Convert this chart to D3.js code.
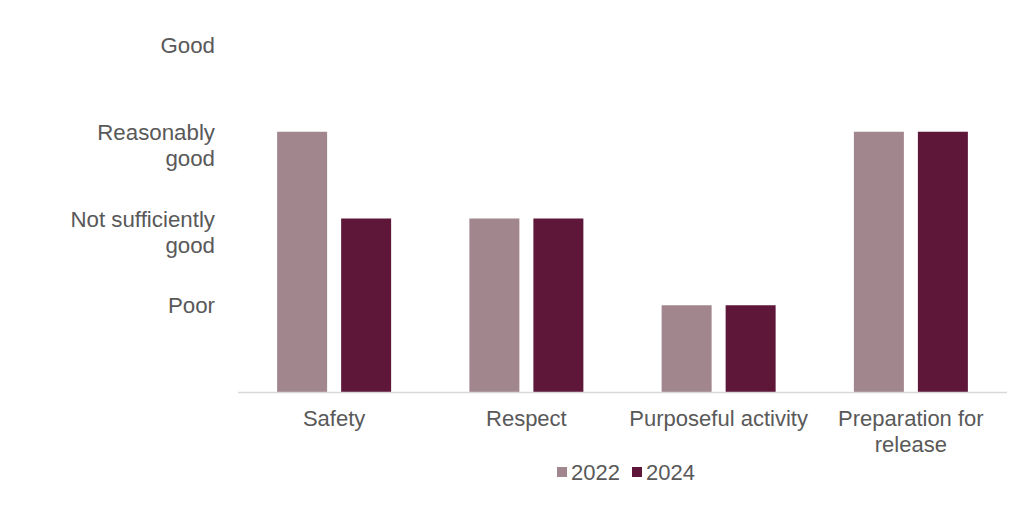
<!DOCTYPE html>
<html>
<head>
<meta charset="utf-8">
<script src="https://cdn.jsdelivr.net/npm/d3@7"></script>
<style>
  body { margin: 0; background: #fff; }
  text { font-family: "Liberation Sans", Arial, sans-serif; fill: #595959; }
</style>
</head>
<body>
<svg width="1024" height="509"></svg>
<script>
const categories = ["Safety", "Respect", "Purposeful activity", "Preparation for release"]
const years = ["2022", "2024"]
const values2022 = [3, 2, 1, 3]
const values2024 = [2, 2, 1, 3]
const ratingLabels = ["Poor", "Not sufficiently good", "Reasonably good", "Good"]
const colors = ["#a1868d", "#5e1739"]

const svg = d3.select("svg")

const x = d3.scaleBand()
  .domain(categories)
  .range([238, 1007])

const x1 = d3.scaleBand()
  .domain(years)
  .range([0, 114])
  .paddingInner(0.219)

const y = d3.scaleLinear()
  .domain([0, 4])
  .range([392, 45])

const series = [values2022, values2024]

// bars
categories.forEach((cat, i) => {
  const g = svg.append("g")
    .attr("transform", `translate(${x(cat) + (x.bandwidth() - 114) / 2},0)`)
  years.forEach((yr, j) => {
    g.append("rect")
      .attr("x", x1(yr))
      .attr("y", y(series[j][i]))
      .attr("width", x1.bandwidth())
      .attr("height", y(0) - y(series[j][i]))
      .attr("fill", colors[j])
  })
})

// axis line
svg.append("line")
  .attr("x1", 238).attr("x2", 1007)
  .attr("y1", y(0) + 0.5).attr("y2", y(0) + 0.5)
  .attr("stroke", "#d9d9d9")
  .attr("stroke-width", 1.5)

// y labels
const yLines = {
  "Poor": ["Poor"],
  "Not sufficiently good": ["Not sufficiently", "good"],
  "Reasonably good": ["Reasonably", "good"],
  "Good": ["Good"]
}
ratingLabels.forEach((lab, i) => {
  const t = svg.append("text")
    .attr("x", 215)
    .attr("y", y(i + 1) + 8)
    .attr("text-anchor", "end")
    .style("font-size", "22.3px")
  yLines[lab].forEach((ln, k) => {
    t.append("tspan").attr("x", 215).attr("dy", k === 0 ? 0 : 26).text(ln)
  })
})

// x labels
categories.forEach(cat => {
  const lines = cat === "Preparation for release" ? ["Preparation for", "release"] : [cat]
  const cx = x(cat) + x.bandwidth() / 2
  const t = svg.append("text")
    .attr("x", cx)
    .attr("y", 426)
    .attr("text-anchor", "middle")
    .style("font-size", "22px")
  lines.forEach((ln, k) => {
    t.append("tspan").attr("x", cx).attr("dy", k === 0 ? 0 : 26).text(ln)
  })
})

// legend
const legend = svg.append("g")
const legendX = [557, 632]
years.forEach((yr, j) => {
  legend.append("rect")
    .attr("x", legendX[j]).attr("y", 467)
    .attr("width", 10).attr("height", 10)
    .attr("fill", colors[j])
  legend.append("text")
    .attr("x", legendX[j] + 14).attr("y", 480)
    .style("font-size", "22px")
    .text(yr)
})
</script>
</body>
</html>
